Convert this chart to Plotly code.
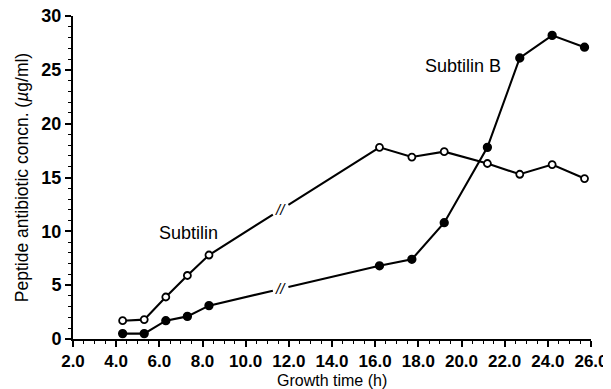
import numpy as np
import plotly.graph_objects as go

# ---- data ----
time_h = [4.3, 5.3, 6.3, 7.3, 8.3, 16.2, 17.7, 19.2, 21.2, 22.7, 24.2, 25.7]
subtilin = [1.7, 1.8, 3.9, 5.9, 7.8, 17.8, 16.9, 17.4, 16.3, 15.3, 16.2, 14.9]
subtilin_b = [0.5, 0.5, 1.7, 2.1, 3.1, 6.8, 7.4, 10.8, 17.8, 26.1, 28.2, 27.1]
series_names = ["Subtilin", "Subtilin B"]
x_tick_vals = [2.0, 4.0, 6.0, 8.0, 10.0, 12.0, 14.0, 16.0, 18.0, 20.0, 22.0, 24.0, 26.0]
y_tick_vals = [0, 5, 10, 15, 20, 25, 30]
x_title = "Growth time (h)"
y_title = "Peptide antibiotic concn. (<i>µ</i>g/ml)"

# axis break drawn on the connecting segment (between 8.3 h and 16.2 h)
BREAK_X = 11.62
GAP = 0.36
BREAK_AFTER = 4  # index of last point before the break

FONT = "Liberation Sans, Arial, sans-serif"

# the page body has an 8px default margin, so the figure is sized to fit the window
PAGE_OFFSET = 8
W, H = 611 - PAGE_OFFSET, 389 - PAGE_OFFSET

fig = go.Figure()


def add_series(ys, filled):
    xs = list(time_h)
    x0, x1 = xs[BREAK_AFTER], xs[BREAK_AFTER + 1]
    y0, y1 = ys[BREAK_AFTER], ys[BREAK_AFTER + 1]
    xa, xb = BREAK_X - GAP, BREAK_X + GAP
    ya = float(np.interp(xa, [x0, x1], [y0, y1]))
    yb = float(np.interp(xb, [x0, x1], [y0, y1]))
    lx = xs[:BREAK_AFTER + 1] + [xa, None, xb] + xs[BREAK_AFTER + 1:]
    ly = list(ys[:BREAK_AFTER + 1]) + [ya, None, yb] + list(ys[BREAK_AFTER + 1:])
    fig.add_trace(go.Scatter(x=lx, y=ly, mode="lines",
                             line=dict(color="black", width=2.1),
                             connectgaps=False, hoverinfo="skip", showlegend=False))
    fig.add_trace(go.Scatter(
        x=xs, y=ys, mode="markers", showlegend=False, cliponaxis=False,
        marker=dict(symbol="circle", size=7.5 if filled else 7,
                    color="black" if filled else "white",
                    line=dict(color="black", width=1.8))))
    ym = float(np.interp(BREAK_X, [x0, x1], [y0, y1]))
    fig.add_annotation(x=BREAK_X, y=ym, xref="x", yref="y", text="<i>//</i>",
                       showarrow=False, font=dict(family=FONT, size=15, color="black"))


add_series(subtilin, filled=False)
add_series(subtilin_b, filled=True)

fig.add_annotation(x=7.33, y=9.85, xref="x", yref="y", text=series_names[0],
                   showarrow=False, font=dict(family=FONT, size=18, color="black"))
fig.add_annotation(x=20.07, y=25.35, xref="x", yref="y", text=series_names[1],
                   showarrow=False, font=dict(family=FONT, size=18, color="black"))
# axis titles as annotations (fixed positions)
fig.add_annotation(x=0.5, y=-0.127, xref="paper", yref="paper", text=x_title,
                   showarrow=False, yanchor="middle",
                   font=dict(family=FONT, size=16, color="black"))
fig.add_annotation(x=-0.099, y=0.5, xref="paper", yref="paper", text=y_title,
                   showarrow=False, textangle=-90, xanchor="center", yanchor="middle",
                   font=dict(family=FONT, size=17.5, color="black"))

fig.update_layout(
    width=W, height=H,
    margin=dict(l=73 - PAGE_OFFSET, r=20, t=16 - PAGE_OFFSET, b=50, autoexpand=False),
    plot_bgcolor="white", paper_bgcolor="white",
    font=dict(family=FONT, color="black"),
)
fig.update_xaxes(
    range=[2, 26], tickvals=x_tick_vals, automargin=False, ticklabeloverflow="allow",
    ticktext=[f"<b>{v:.1f}</b>" for v in x_tick_vals],
    ticks="outside", ticklen=6, tickwidth=1.5, tickcolor="black",
    showline=True, linecolor="black", linewidth=2, showgrid=False, zeroline=False,
    tickfont=dict(family=FONT, size=17, color="black"),
    minor=dict(dtick=0.5, ticks="outside", ticklen=3, tickwidth=1.2, tickcolor="black"),
)
fig.update_yaxes(
    range=[0, 30], tickvals=y_tick_vals, automargin=False, ticklabeloverflow="allow",
    ticktext=[f"<b>{v}</b>" for v in y_tick_vals],
    ticks="outside", ticklen=6, tickwidth=1.5, tickcolor="black",
    showline=True, linecolor="black", linewidth=2, showgrid=False, zeroline=False,
    tickfont=dict(family=FONT, size=18, color="black"),
    minor=dict(dtick=1, ticks="outside", ticklen=3, tickwidth=1.2, tickcolor="black"),
)

fig.write_html("out.html")
